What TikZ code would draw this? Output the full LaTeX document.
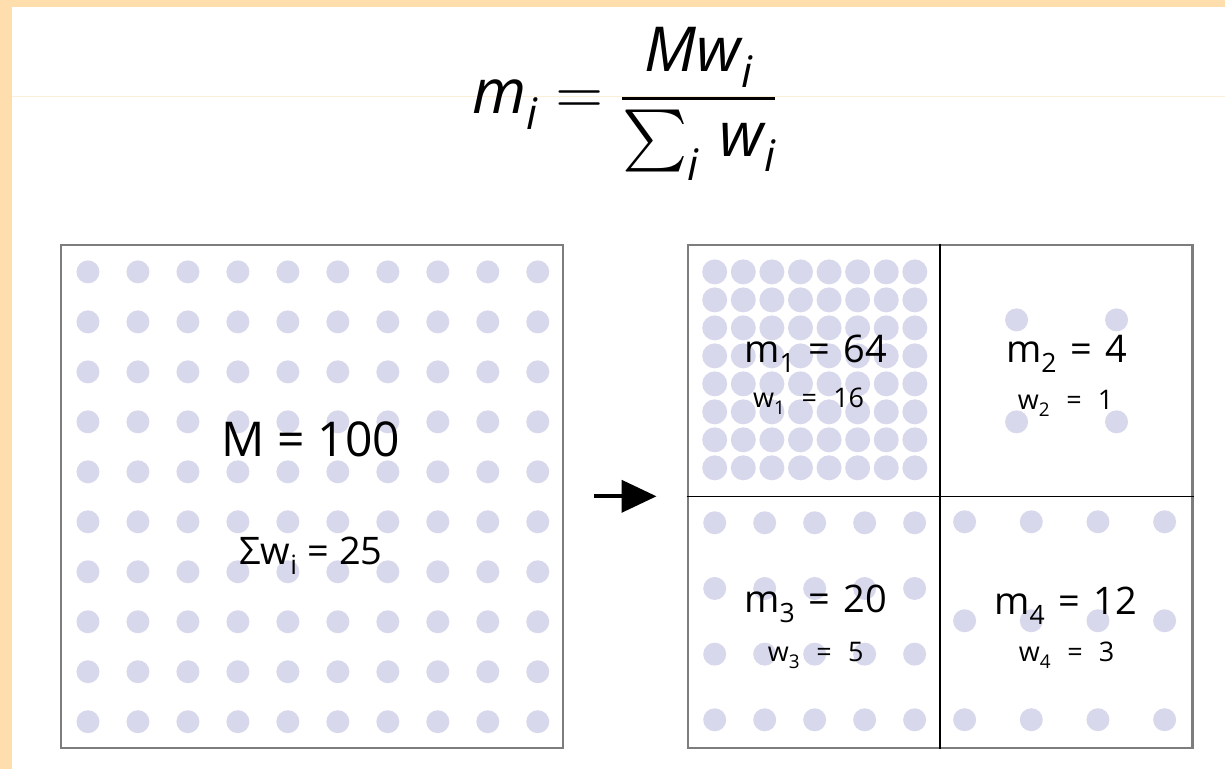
\documentclass[tikz,border=0pt]{standalone}
\usepackage{amsmath}
\usepackage{fontspec}
\usepackage{unicode-math}
\setmainfont{Open Sans}
\setmathfont{Latin Modern Math}
\usetikzlibrary{arrows.meta,positioning}

\definecolor{peach}{RGB}{254,222,172}
\definecolor{faintpeach}{RGB}{253,238,218}
\definecolor{dotblue}{RGB}{216,216,237}
\definecolor{framegray}{RGB}{125,125,125}

\newcommand{\eqsp}{\hspace{0.6em}=\hspace{0.6em}}

\begin{document}
\begin{tikzpicture}[
  x=1pt, y=-1pt,
  panel/.style={draw=framegray, line width=2.4pt, minimum width=502pt, minimum height=503pt, inner sep=0pt},
  divider/.style={draw=black, line width=1.3pt},
  bigval/.style={font=\fontsize{48}{50}\selectfont, anchor=base},
  midval/.style={font=\fontsize{38}{40}\selectfont, anchor=base},
  weight/.style={font=\fontsize{27}{29}\selectfont, anchor=base},
  arrow/.style={-{Triangle[length=35pt,width=32pt]}, line width=4pt}
]
% page and margins
\fill[white] (0,0) rectangle (1225,769);
\fill[peach] (0,0) rectangle (1225,7);
\fill[peach] (0,0) rectangle (12,769);
\draw[faintpeach, line width=1pt] (12,97) -- (1225,97);

% formula
\node[anchor=base, font=\fontsize{62}{66}\selectfont] (formula) at (625,114)
  {$\textit{m}_{\textit{i}} = \dfrac{\textit{Mw}_{\textit{i}}}{\textstyle\sum_{\textit{i}}\, \textit{w}_{\textit{i}}}$};

% dots, whole mass
\foreach \i in {0,...,9}
  \foreach \j in {0,...,9}
    \fill[dotblue] (88+50*\i, 272+50*\j) circle (11.5pt);
% dots, four parts
\foreach \i in {0,...,7}
  \foreach \j in {0,...,7}
    \fill[dotblue] (715+28.6*\i, 272+28*\j) circle (12.5pt);
\foreach \i in {0,1}
  \foreach \j in {0,1}
    \fill[dotblue] (1017+100*\i, 320+102*\j) circle (11.5pt);
\foreach \i in {0,...,4}
  \foreach \j in {0,...,3}
    \fill[dotblue] (715+50*\i, 523+65.7*\j) circle (11.5pt);
\foreach \i in {0,...,3}
  \foreach \j in {0,...,2}
    \fill[dotblue] (965+66.7*\i, 522+99*\j) circle (11.5pt);

% boxes
\node[panel] (mass) at (312,496.5) {};
\node[panel, minimum width=505pt] (split) at (940.5,496.5) {};
\draw[divider] (split.north) -- (split.south);
\draw[divider] (split.west) -- (split.east);

% labels
\node[bigval] (total) at (311,457) {M = 100};
\node[midval] (wsum) at (311,565) {Σw$_{\text{i}}$ = 25};
\node[midval] (m1) at (816,363) {m$_{\text{1}}$\hspace{0.35em}=\hspace{0.35em}64};
\node[weight] (w1) at (809,408) {w$_{\text{1}}$\eqsp16};
\node[midval] (m2) at (1067,363) {m$_{\text{2}}$\hspace{0.35em}=\hspace{0.35em}4};
\node[weight] (w2) at (1066,410) {w$_{\text{2}}$\eqsp1};
\node[midval] (m3) at (816,613) {m$_{\text{3}}$\hspace{0.35em}=\hspace{0.35em}20};
\node[weight] (w3) at (816,662) {w$_{\text{3}}$\eqsp5};
\node[midval] (m4) at (1066,615) {m$_{\text{4}}$\hspace{0.35em}=\hspace{0.35em}12};
\node[weight] (w4) at (1067,662) {w$_{\text{4}}$\eqsp3};

\draw[arrow] ([xshift=30pt]mass.east) -- ([xshift=-30pt]split.west);
\end{tikzpicture}
\end{document}
